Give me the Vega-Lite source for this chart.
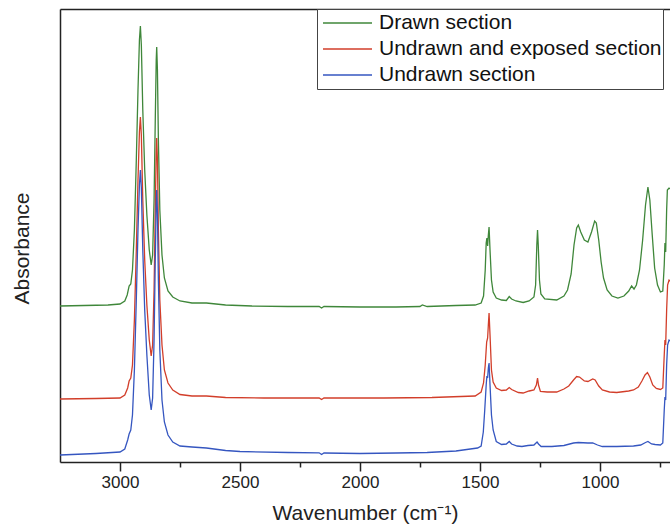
{
"$schema": "https://vega.github.io/schema/vega-lite/v6.json",
"width": 610, "height": 453,
"autosize": {"type": "none"},
"padding": {"left": 60, "top": 9, "right": 0, "bottom": 68},
"background": "white",
"config": {"view": {"stroke": null}, "font": "Liberation Sans", "axis": {"grid": false}},
"data": {"values": [
{"s":"Drawn section","w":3250,"A":1.56},{"s":"Drawn section","w":3150,"A":1.565},{"s":"Drawn section","w":3050,"A":1.57},{"s":"Drawn section","w":3000,"A":1.58},{"s":"Drawn section","w":2980,"A":1.61},{"s":"Drawn section","w":2970,"A":1.67},{"s":"Drawn section","w":2962,"A":1.76},{"s":"Drawn section","w":2955,"A":1.78},{"s":"Drawn section","w":2948,"A":1.92},{"s":"Drawn section","w":2940,"A":2.32},{"s":"Drawn section","w":2932,"A":3.02},{"s":"Drawn section","w":2925,"A":3.72},{"s":"Drawn section","w":2919,"A":4.22},{"s":"Drawn section","w":2915,"A":4.36},{"s":"Drawn section","w":2911,"A":4.17},{"s":"Drawn section","w":2905,"A":3.52},{"s":"Drawn section","w":2897,"A":2.92},{"s":"Drawn section","w":2888,"A":2.47},{"s":"Drawn section","w":2878,"A":2.12},{"s":"Drawn section","w":2870,"A":1.97},{"s":"Drawn section","w":2864,"A":2.07},{"s":"Drawn section","w":2858,"A":2.62},{"s":"Drawn section","w":2853,"A":3.42},{"s":"Drawn section","w":2849,"A":4.02},{"s":"Drawn section","w":2847,"A":4.15},{"s":"Drawn section","w":2844,"A":3.92},{"s":"Drawn section","w":2840,"A":3.22},{"s":"Drawn section","w":2834,"A":2.52},{"s":"Drawn section","w":2825,"A":2.07},{"s":"Drawn section","w":2815,"A":1.84},{"s":"Drawn section","w":2800,"A":1.71},{"s":"Drawn section","w":2780,"A":1.65},{"s":"Drawn section","w":2750,"A":1.61},{"s":"Drawn section","w":2700,"A":1.59},{"s":"Drawn section","w":2640,"A":1.59},{"s":"Drawn section","w":2560,"A":1.57},{"s":"Drawn section","w":2450,"A":1.56},{"s":"Drawn section","w":2300,"A":1.555},{"s":"Drawn section","w":2170,"A":1.555},{"s":"Drawn section","w":2160,"A":1.54},{"s":"Drawn section","w":2150,"A":1.555},{"s":"Drawn section","w":2000,"A":1.55},{"s":"Drawn section","w":1850,"A":1.55},{"s":"Drawn section","w":1750,"A":1.555},{"s":"Drawn section","w":1740,"A":1.57},{"s":"Drawn section","w":1720,"A":1.555},{"s":"Drawn section","w":1600,"A":1.565},{"s":"Drawn section","w":1520,"A":1.57},{"s":"Drawn section","w":1495,"A":1.59},{"s":"Drawn section","w":1485,"A":1.66},{"s":"Drawn section","w":1478,"A":1.92},{"s":"Drawn section","w":1474,"A":2.19},{"s":"Drawn section","w":1471,"A":2.24},{"s":"Drawn section","w":1468,"A":2.16},{"s":"Drawn section","w":1465,"A":2.27},{"s":"Drawn section","w":1462,"A":2.35},{"s":"Drawn section","w":1458,"A":2.12},{"s":"Drawn section","w":1452,"A":1.82},{"s":"Drawn section","w":1445,"A":1.70},{"s":"Drawn section","w":1432,"A":1.64},{"s":"Drawn section","w":1410,"A":1.62},{"s":"Drawn section","w":1390,"A":1.615},{"s":"Drawn section","w":1378,"A":1.655},{"s":"Drawn section","w":1368,"A":1.63},{"s":"Drawn section","w":1350,"A":1.61},{"s":"Drawn section","w":1320,"A":1.595},{"s":"Drawn section","w":1295,"A":1.61},{"s":"Drawn section","w":1275,"A":1.65},{"s":"Drawn section","w":1268,"A":1.77},{"s":"Drawn section","w":1263,"A":2.17},{"s":"Drawn section","w":1260,"A":2.32},{"s":"Drawn section","w":1257,"A":2.17},{"s":"Drawn section","w":1252,"A":1.82},{"s":"Drawn section","w":1246,"A":1.68},{"s":"Drawn section","w":1230,"A":1.63},{"s":"Drawn section","w":1180,"A":1.62},{"s":"Drawn section","w":1150,"A":1.66},{"s":"Drawn section","w":1135,"A":1.72},{"s":"Drawn section","w":1120,"A":1.88},{"s":"Drawn section","w":1108,"A":2.17},{"s":"Drawn section","w":1097,"A":2.34},{"s":"Drawn section","w":1090,"A":2.37},{"s":"Drawn section","w":1080,"A":2.30},{"s":"Drawn section","w":1065,"A":2.22},{"s":"Drawn section","w":1050,"A":2.20},{"s":"Drawn section","w":1035,"A":2.30},{"s":"Drawn section","w":1022,"A":2.41},{"s":"Drawn section","w":1015,"A":2.39},{"s":"Drawn section","w":1005,"A":2.22},{"s":"Drawn section","w":995,"A":2.00},{"s":"Drawn section","w":985,"A":1.84},{"s":"Drawn section","w":970,"A":1.72},{"s":"Drawn section","w":950,"A":1.66},{"s":"Drawn section","w":925,"A":1.64},{"s":"Drawn section","w":900,"A":1.66},{"s":"Drawn section","w":880,"A":1.71},{"s":"Drawn section","w":868,"A":1.76},{"s":"Drawn section","w":858,"A":1.73},{"s":"Drawn section","w":848,"A":1.77},{"s":"Drawn section","w":835,"A":1.92},{"s":"Drawn section","w":822,"A":2.22},{"s":"Drawn section","w":810,"A":2.57},{"s":"Drawn section","w":800,"A":2.75},{"s":"Drawn section","w":792,"A":2.62},{"s":"Drawn section","w":782,"A":2.27},{"s":"Drawn section","w":772,"A":1.94},{"s":"Drawn section","w":760,"A":1.77},{"s":"Drawn section","w":748,"A":1.70},{"s":"Drawn section","w":738,"A":1.71},{"s":"Drawn section","w":732,"A":1.97},{"s":"Drawn section","w":729,"A":2.19},{"s":"Drawn section","w":726,"A":2.10},{"s":"Drawn section","w":722,"A":2.52},{"s":"Drawn section","w":719,"A":2.72},{"s":"Drawn section","w":712,"A":2.74},{"s":"Drawn section","w":700,"A":2.72},
{"s":"Undrawn and exposed section","w":3250,"A":0.63},{"s":"Undrawn and exposed section","w":3100,"A":0.635},{"s":"Undrawn and exposed section","w":3000,"A":0.64},{"s":"Undrawn and exposed section","w":2980,"A":0.67},{"s":"Undrawn and exposed section","w":2968,"A":0.74},{"s":"Undrawn and exposed section","w":2962,"A":0.81},{"s":"Undrawn and exposed section","w":2955,"A":0.84},{"s":"Undrawn and exposed section","w":2948,"A":0.97},{"s":"Undrawn and exposed section","w":2940,"A":1.42},{"s":"Undrawn and exposed section","w":2932,"A":2.12},{"s":"Undrawn and exposed section","w":2925,"A":2.82},{"s":"Undrawn and exposed section","w":2919,"A":3.30},{"s":"Undrawn and exposed section","w":2915,"A":3.45},{"s":"Undrawn and exposed section","w":2911,"A":3.27},{"s":"Undrawn and exposed section","w":2905,"A":2.62},{"s":"Undrawn and exposed section","w":2897,"A":2.02},{"s":"Undrawn and exposed section","w":2888,"A":1.57},{"s":"Undrawn and exposed section","w":2878,"A":1.22},{"s":"Undrawn and exposed section","w":2870,"A":1.06},{"s":"Undrawn and exposed section","w":2864,"A":1.17},{"s":"Undrawn and exposed section","w":2858,"A":1.72},{"s":"Undrawn and exposed section","w":2853,"A":2.52},{"s":"Undrawn and exposed section","w":2849,"A":3.10},{"s":"Undrawn and exposed section","w":2847,"A":3.24},{"s":"Undrawn and exposed section","w":2844,"A":3.02},{"s":"Undrawn and exposed section","w":2840,"A":2.32},{"s":"Undrawn and exposed section","w":2834,"A":1.62},{"s":"Undrawn and exposed section","w":2825,"A":1.17},{"s":"Undrawn and exposed section","w":2815,"A":0.92},{"s":"Undrawn and exposed section","w":2800,"A":0.79},{"s":"Undrawn and exposed section","w":2780,"A":0.72},{"s":"Undrawn and exposed section","w":2750,"A":0.675},{"s":"Undrawn and exposed section","w":2700,"A":0.66},{"s":"Undrawn and exposed section","w":2640,"A":0.66},{"s":"Undrawn and exposed section","w":2560,"A":0.645},{"s":"Undrawn and exposed section","w":2400,"A":0.64},{"s":"Undrawn and exposed section","w":2170,"A":0.64},{"s":"Undrawn and exposed section","w":2160,"A":0.625},{"s":"Undrawn and exposed section","w":2150,"A":0.64},{"s":"Undrawn and exposed section","w":1900,"A":0.64},{"s":"Undrawn and exposed section","w":1700,"A":0.645},{"s":"Undrawn and exposed section","w":1520,"A":0.66},{"s":"Undrawn and exposed section","w":1495,"A":0.70},{"s":"Undrawn and exposed section","w":1485,"A":0.79},{"s":"Undrawn and exposed section","w":1478,"A":0.97},{"s":"Undrawn and exposed section","w":1472,"A":1.20},{"s":"Undrawn and exposed section","w":1468,"A":1.24},{"s":"Undrawn and exposed section","w":1465,"A":1.37},{"s":"Undrawn and exposed section","w":1462,"A":1.49},{"s":"Undrawn and exposed section","w":1458,"A":1.27},{"s":"Undrawn and exposed section","w":1452,"A":0.92},{"s":"Undrawn and exposed section","w":1445,"A":0.80},{"s":"Undrawn and exposed section","w":1432,"A":0.74},{"s":"Undrawn and exposed section","w":1410,"A":0.715},{"s":"Undrawn and exposed section","w":1390,"A":0.72},{"s":"Undrawn and exposed section","w":1378,"A":0.745},{"s":"Undrawn and exposed section","w":1368,"A":0.725},{"s":"Undrawn and exposed section","w":1340,"A":0.695},{"s":"Undrawn and exposed section","w":1320,"A":0.69},{"s":"Undrawn and exposed section","w":1295,"A":0.71},{"s":"Undrawn and exposed section","w":1275,"A":0.72},{"s":"Undrawn and exposed section","w":1265,"A":0.77},{"s":"Undrawn and exposed section","w":1260,"A":0.84},{"s":"Undrawn and exposed section","w":1256,"A":0.77},{"s":"Undrawn and exposed section","w":1248,"A":0.705},{"s":"Undrawn and exposed section","w":1220,"A":0.70},{"s":"Undrawn and exposed section","w":1180,"A":0.70},{"s":"Undrawn and exposed section","w":1150,"A":0.73},{"s":"Undrawn and exposed section","w":1130,"A":0.76},{"s":"Undrawn and exposed section","w":1110,"A":0.82},{"s":"Undrawn and exposed section","w":1097,"A":0.855},{"s":"Undrawn and exposed section","w":1085,"A":0.85},{"s":"Undrawn and exposed section","w":1065,"A":0.81},{"s":"Undrawn and exposed section","w":1050,"A":0.805},{"s":"Undrawn and exposed section","w":1030,"A":0.83},{"s":"Undrawn and exposed section","w":1020,"A":0.82},{"s":"Undrawn and exposed section","w":1005,"A":0.76},{"s":"Undrawn and exposed section","w":990,"A":0.72},{"s":"Undrawn and exposed section","w":960,"A":0.70},{"s":"Undrawn and exposed section","w":930,"A":0.695},{"s":"Undrawn and exposed section","w":880,"A":0.71},{"s":"Undrawn and exposed section","w":860,"A":0.72},{"s":"Undrawn and exposed section","w":840,"A":0.75},{"s":"Undrawn and exposed section","w":825,"A":0.81},{"s":"Undrawn and exposed section","w":812,"A":0.87},{"s":"Undrawn and exposed section","w":802,"A":0.895},{"s":"Undrawn and exposed section","w":792,"A":0.85},{"s":"Undrawn and exposed section","w":780,"A":0.77},{"s":"Undrawn and exposed section","w":765,"A":0.735},{"s":"Undrawn and exposed section","w":748,"A":0.725},{"s":"Undrawn and exposed section","w":738,"A":0.74},{"s":"Undrawn and exposed section","w":732,"A":1.07},{"s":"Undrawn and exposed section","w":729,"A":1.22},{"s":"Undrawn and exposed section","w":726,"A":1.17},{"s":"Undrawn and exposed section","w":722,"A":1.52},{"s":"Undrawn and exposed section","w":718,"A":1.77},{"s":"Undrawn and exposed section","w":712,"A":1.82},{"s":"Undrawn and exposed section","w":700,"A":1.80},
{"s":"Undrawn section","w":3250,"A":0.07},{"s":"Undrawn section","w":3100,"A":0.085},{"s":"Undrawn section","w":3000,"A":0.10},{"s":"Undrawn section","w":2980,"A":0.13},{"s":"Undrawn section","w":2968,"A":0.22},{"s":"Undrawn section","w":2962,"A":0.28},{"s":"Undrawn section","w":2955,"A":0.32},{"s":"Undrawn section","w":2948,"A":0.47},{"s":"Undrawn section","w":2940,"A":0.92},{"s":"Undrawn section","w":2932,"A":1.62},{"s":"Undrawn section","w":2925,"A":2.32},{"s":"Undrawn section","w":2919,"A":2.77},{"s":"Undrawn section","w":2915,"A":2.92},{"s":"Undrawn section","w":2911,"A":2.74},{"s":"Undrawn section","w":2905,"A":2.12},{"s":"Undrawn section","w":2897,"A":1.52},{"s":"Undrawn section","w":2888,"A":1.07},{"s":"Undrawn section","w":2878,"A":0.67},{"s":"Undrawn section","w":2870,"A":0.52},{"s":"Undrawn section","w":2864,"A":0.64},{"s":"Undrawn section","w":2858,"A":1.22},{"s":"Undrawn section","w":2853,"A":2.02},{"s":"Undrawn section","w":2849,"A":2.57},{"s":"Undrawn section","w":2847,"A":2.72},{"s":"Undrawn section","w":2844,"A":2.50},{"s":"Undrawn section","w":2840,"A":1.82},{"s":"Undrawn section","w":2834,"A":1.12},{"s":"Undrawn section","w":2825,"A":0.62},{"s":"Undrawn section","w":2815,"A":0.40},{"s":"Undrawn section","w":2800,"A":0.27},{"s":"Undrawn section","w":2780,"A":0.20},{"s":"Undrawn section","w":2750,"A":0.16},{"s":"Undrawn section","w":2700,"A":0.15},{"s":"Undrawn section","w":2640,"A":0.14},{"s":"Undrawn section","w":2560,"A":0.115},{"s":"Undrawn section","w":2500,"A":0.105},{"s":"Undrawn section","w":2300,"A":0.095},{"s":"Undrawn section","w":2170,"A":0.092},{"s":"Undrawn section","w":2160,"A":0.075},{"s":"Undrawn section","w":2150,"A":0.09},{"s":"Undrawn section","w":2000,"A":0.085},{"s":"Undrawn section","w":1850,"A":0.09},{"s":"Undrawn section","w":1720,"A":0.095},{"s":"Undrawn section","w":1600,"A":0.11},{"s":"Undrawn section","w":1540,"A":0.13},{"s":"Undrawn section","w":1510,"A":0.14},{"s":"Undrawn section","w":1495,"A":0.16},{"s":"Undrawn section","w":1486,"A":0.30},{"s":"Undrawn section","w":1480,"A":0.52},{"s":"Undrawn section","w":1474,"A":0.77},{"s":"Undrawn section","w":1471,"A":0.86},{"s":"Undrawn section","w":1468,"A":0.84},{"s":"Undrawn section","w":1465,"A":0.94},{"s":"Undrawn section","w":1462,"A":0.99},{"s":"Undrawn section","w":1458,"A":0.77},{"s":"Undrawn section","w":1452,"A":0.47},{"s":"Undrawn section","w":1445,"A":0.32},{"s":"Undrawn section","w":1432,"A":0.205},{"s":"Undrawn section","w":1410,"A":0.175},{"s":"Undrawn section","w":1390,"A":0.18},{"s":"Undrawn section","w":1378,"A":0.205},{"s":"Undrawn section","w":1368,"A":0.18},{"s":"Undrawn section","w":1345,"A":0.16},{"s":"Undrawn section","w":1325,"A":0.155},{"s":"Undrawn section","w":1300,"A":0.165},{"s":"Undrawn section","w":1275,"A":0.17},{"s":"Undrawn section","w":1262,"A":0.20},{"s":"Undrawn section","w":1256,"A":0.18},{"s":"Undrawn section","w":1245,"A":0.155},{"s":"Undrawn section","w":1200,"A":0.155},{"s":"Undrawn section","w":1150,"A":0.165},{"s":"Undrawn section","w":1110,"A":0.19},{"s":"Undrawn section","w":1090,"A":0.195},{"s":"Undrawn section","w":1050,"A":0.19},{"s":"Undrawn section","w":1030,"A":0.19},{"s":"Undrawn section","w":1010,"A":0.17},{"s":"Undrawn section","w":990,"A":0.155},{"s":"Undrawn section","w":930,"A":0.155},{"s":"Undrawn section","w":860,"A":0.16},{"s":"Undrawn section","w":830,"A":0.17},{"s":"Undrawn section","w":810,"A":0.195},{"s":"Undrawn section","w":800,"A":0.205},{"s":"Undrawn section","w":785,"A":0.18},{"s":"Undrawn section","w":770,"A":0.175},{"s":"Undrawn section","w":748,"A":0.17},{"s":"Undrawn section","w":738,"A":0.19},{"s":"Undrawn section","w":732,"A":0.52},{"s":"Undrawn section","w":729,"A":0.65},{"s":"Undrawn section","w":726,"A":0.62},{"s":"Undrawn section","w":722,"A":0.97},{"s":"Undrawn section","w":718,"A":1.17},{"s":"Undrawn section","w":712,"A":1.22},{"s":"Undrawn section","w":700,"A":1.20}
]},
"layer": [
{"mark": {"type": "line", "strokeWidth": 1.3, "clip": true},
 "encoding": {
  "x": {"field": "w", "type": "quantitative",
        "scale": {"domain": [708, 3250], "reverse": true, "nice": false, "zero": false},
        "axis": {"orient": "bottom", "values": [3000, 2750, 2500, 2250, 2000, 1750, 1500, 1250, 1000, 750], "format": "d",
                 "labelExpr": "datum.value % 500 === 0 ? datum.label : ''",
                 "tickSize": {"condition": {"test": "datum.value % 500 === 0", "value": 9}, "value": 5},
                 "tickColor": "#222", "tickWidth": 1.5, "domainColor": "#222", "domainWidth": 1.5,
                 "labelFontSize": 17, "labelColor": "#222", "labelPadding": 3,
                 "title": "Wavenumber (cm⁻¹)", "titleFontSize": 21, "titleFontWeight": "normal", "titleColor": "#222", "titlePadding": 12}},
  "y": {"field": "A", "type": "quantitative",
        "scale": {"domain": [0, 4.53], "nice": false, "zero": false},
        "axis": {"title": "Absorbance", "labels": false, "ticks": false, "domainColor": "#222", "domainWidth": 1.5,
                 "titleFontSize": 21, "titleFontWeight": "normal", "titleColor": "#222",
                 "titleX": -38, "titleY": 239, "titleBaseline": "middle", "titleAlign": "center", "titleAngle": -90}},
  "color": {"field": "s", "type": "nominal",
            "scale": {"domain": ["Drawn section", "Undrawn and exposed section", "Undrawn section"], "range": ["#3f873a", "#d23e2a", "#3556c0"]},
            "legend": {"orient": "none", "legendX": 257, "legendY": 0, "title": null, "direction": "vertical",
                       "symbolType": "stroke", "symbolSize": 2401, "symbolStrokeWidth": 1.5, "symbolOffset": 4, "clipHeight": 26, "rowPadding": 0,
                       "labelFontSize": 21, "labelOffset": 6, "labelColor": "#111", "labelLimit": 400,
                       "padding": 1, "strokeColor": "#444", "fillColor": "white"}}
 }},
{"mark": {"type": "line", "opacity": 0, "strokeWidth": 0},
 "encoding": {
  "x": {"field": "w", "type": "quantitative",
        "axis": {"orient": "top", "labels": false, "ticks": false, "title": null, "domainColor": "#222", "domainWidth": 1.5}}
 }}
]
}
